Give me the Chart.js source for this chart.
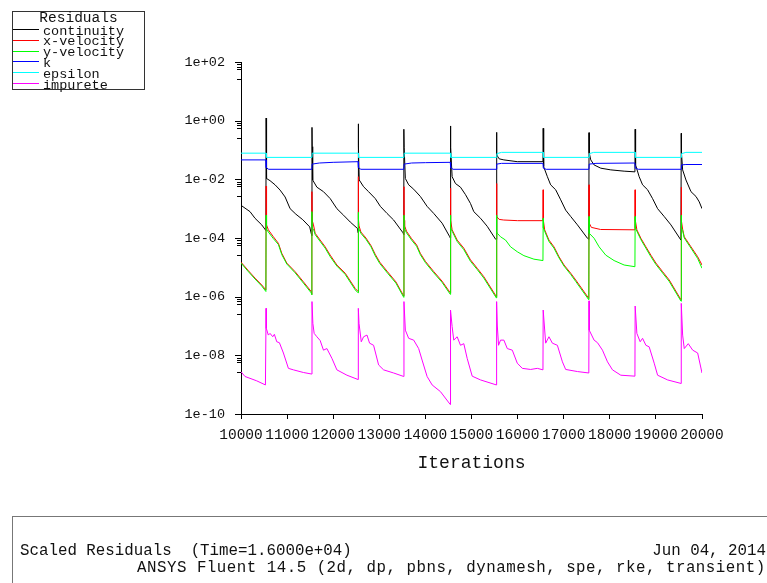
<!DOCTYPE html>
<html>
<head>
<meta charset="utf-8">
<title>Scaled Residuals</title>
<script src="https://cdn.jsdelivr.net/npm/chart.js@4.4.1/dist/chart.umd.min.js"></script>
<style>
  body { margin: 0; background: #fff; }
  #wrap { position: relative; width: 767px; height: 583px; overflow: hidden; }
  #chart { position: absolute; left: 0; top: 0; }
  .txt { position: absolute; font-family: "Liberation Mono", monospace; color: #111; white-space: pre; }
  #legend-box { position: absolute; left: 12px; top: 11px; width: 131px; height: 77px; border: 1px solid #333; }
  .swatch { position: absolute; left: 13px; width: 26px; height: 1px; }
  #footer-box { position: absolute; left: 12px; top: 516px; width: 800px; height: 100px; border: 1px solid #777; }
</style>
</head>
<body>
<div id="wrap">
  <canvas id="chart" width="767" height="583"></canvas>
  <div id="legend-box"></div>
  <div id="legend"></div>
  <div id="footer-box"></div>
  <div class="txt" style="left:20px;top:544px;font-size:15.8px;line-height:15.8px;">Scaled Residuals  (Time=1.6000e+04)</div>
  <div class="txt" style="right:1px;top:544px;font-size:15.8px;line-height:15.8px;">Jun 04, 2014</div>
  <div class="txt" style="left:137px;top:561px;font-size:15.8px;line-height:15.8px;letter-spacing:0.5px;">ANSYS Fluent 14.5 (2d, dp, pbns, dynamesh, spe, rke, transient)</div>
</div>
<script>
// ---- data ----
const seriesNames = ["continuity", "x-velocity", "y-velocity", "k", "epsilon", "impurete"];
const seriesColors = ["#000000", "#ff0000", "#00ff00", "#0000ff", "#00ffff", "#ff00ff"];

const xTickValues = [10000, 11000, 12000, 13000, 14000, 15000, 16000, 17000, 18000, 19000, 20000];
const yTickValues = [1e-10, 1e-8, 1e-6, 1e-4, 1e-2, 1e0, 1e2];
const yTickLabels = ["1e-10", "1e-08", "1e-06", "1e-04", "1e-02", "1e+00", "1e+02"];
const minorTickFactors = [0.83, 0.7, 0.57, 0.26];

const continuity = [
  [10000, 1.3e-3], [10196, 7.9e-4], [10304, 4.7e-4], [10450, 2.8e-4], [10540, 1.8e-4],
  [10545, 1.23], [10549, 0.15], [10560, 1.07e-2], [10630, 9.0e-3], [10739, 6.5e-3], [10848, 4.3e-3], [10957, 2.5e-3], [11065, 1.0e-3], [11190, 6.5e-4], [11340, 4.2e-4], [11490, 2.4e-4], [11535, 1.2e-4],
  [11540, 0.59], [11544, 0.13], [11555, 9.5e-3], [11646, 5.4e-3], [11789, 3.8e-3], [11935, 2.2e-3], [12080, 1.0e-3], [12224, 6.0e-4], [12370, 3.5e-4], [12528, 2.1e-4], [12540, 1.5e-4],
  [12545, 0.78], [12549, 0.14], [12565, 9.5e-3], [12659, 5.6e-3], [12767, 3.8e-3], [12913, 2.2e-3], [13022, 1.2e-3], [13167, 6.9e-4], [13311, 4.1e-4], [13515, 1.5e-4], [13530, 1.3e-4],
  [13535, 0.51], [13539, 0.12], [13565, 1.07e-2], [13637, 6.5e-3], [13746, 4.6e-3], [13891, 2.6e-3], [14037, 1.2e-3], [14180, 6.9e-4], [14363, 3.2e-4], [14528, 1.1e-4], [14540, 1.0e-4],
  [14545, 0.66], [14549, 0.12], [14580, 1.23e-2], [14652, 7.2e-3], [14761, 5.4e-3], [14870, 3.0e-3], [14978, 1.5e-3], [15050, 7.9e-4], [15196, 4.7e-4], [15341, 2.5e-4], [15522, 9.1e-5], [15540, 9.0e-5],
  [15545, 0.40], [15548, 0.068], [15600, 0.05], [15702, 0.046], [15993, 0.040], [16550, 0.040],
  [16555, 0.55], [16559, 0.10], [16572, 2.7e-2], [16646, 1.23e-2], [16717, 6.5e-3], [16826, 4.4e-3], [16935, 2.0e-3], [17043, 8.9e-4], [17152, 5.4e-4], [17298, 2.8e-4], [17515, 9.8e-5], [17545, 9.0e-5],
  [17550, 0.39], [17554, 0.08], [17587, 4.6e-2], [17659, 3.1e-2], [17804, 2.4e-2], [18022, 2.1e-2], [18311, 1.9e-2], [18545, 1.8e-2],
  [18550, 0.51], [18554, 0.10], [18565, 3.1e-2], [18637, 1.23e-2], [18711, 6.5e-3], [18820, 4.4e-3], [18928, 2.2e-3], [19037, 1.0e-3], [19180, 5.4e-4], [19326, 2.8e-4], [19543, 8.5e-5],
  [19550, 0.37], [19554, 0.08], [19580, 2.1e-2], [19652, 9.5e-3], [19761, 3.8e-3], [19870, 2.6e-3], [19941, 1.7e-3], [20000, 1.0e-3]
];

const xVelocity = [
  [10000, 1.5e-5], [10150, 8.0e-6], [10304, 4.3e-6], [10450, 2.5e-6], [10540, 1.7e-6],
  [10545, 5.9e-3], [10549, 4.0e-4], [10559, 2.8e-4], [10593, 1.9e-4], [10702, 1.1e-4], [10811, 6.6e-5], [10885, 3.0e-5], [10993, 1.4e-5], [11174, 7.1e-6], [11354, 3.2e-6], [11522, 1.5e-6], [11535, 1.2e-6],
  [11540, 3.8e-3], [11544, 4.0e-4], [11572, 2.8e-4], [11609, 1.45e-4], [11717, 8.5e-5], [11826, 5.0e-5], [11935, 2.6e-5], [12080, 1.2e-5], [12261, 6.3e-6], [12478, 1.9e-6], [12540, 1.5e-6],
  [12545, 1.23e-2], [12549, 4.5e-4], [12560, 2.6e-4], [12600, 1.6e-4], [12710, 1.0e-4], [12820, 5.5e-5], [12910, 2.8e-5], [13010, 1.5e-5], [13180, 7.0e-6], [13360, 3.2e-6], [13530, 1.05e-6],
  [13535, 5.6e-3], [13539, 4.0e-4], [13550, 2.6e-4], [13590, 1.7e-4], [13700, 9.5e-5], [13810, 5.8e-5], [13890, 3.0e-5], [14000, 1.6e-5], [14180, 7.2e-6], [14360, 3.4e-6], [14540, 1.35e-6],
  [14545, 5.0e-3], [14549, 4.0e-4], [14580, 1.9e-4], [14689, 8.5e-5], [14833, 4.5e-5], [14978, 1.8e-5], [15124, 9.3e-6], [15267, 4.8e-6], [15540, 1.0e-6],
  [15545, 7.2e-3], [15548, 5.4e-4], [15600, 4.3e-4], [15700, 4.1e-4], [16000, 3.9e-4], [16550, 3.9e-4],
  [16555, 4.4e-3], [16559, 4.0e-4], [16587, 1.9e-4], [16680, 8.5e-5], [16789, 5.0e-5], [16898, 2.3e-5], [17007, 1.2e-5], [17152, 6.3e-6], [17261, 3.7e-6], [17545, 8.7e-7],
  [17550, 6.5e-3], [17554, 3.2e-4], [17600, 2.3e-4], [17800, 1.95e-4], [18545, 1.9e-4],
  [18550, 4.4e-3], [18554, 4.0e-4], [18587, 1.9e-4], [18674, 9.8e-5], [18783, 5.0e-5], [18891, 2.6e-5], [19000, 1.4e-5], [19146, 7.1e-6], [19289, 3.7e-6], [19545, 7.8e-7],
  [19550, 5.4e-3], [19554, 4.0e-4], [19580, 2.0e-4], [19615, 1.1e-4], [19761, 5.0e-5], [19906, 2.3e-5], [20000, 1.2e-5]
];

const yVelocity = [
  [10000, 1.4e-5], [10150, 7.4e-6], [10304, 4.0e-6], [10450, 2.3e-6], [10540, 1.5e-6],
  [10545, 6.0e-4], [10549, 2.2e-4], [10559, 2.0e-4], [10593, 1.6e-4], [10702, 9.5e-5], [10811, 6.0e-5], [10885, 2.7e-5], [10993, 1.3e-5], [11174, 6.5e-6], [11354, 2.9e-6], [11522, 1.35e-6], [11535, 1.15e-6],
  [11540, 7.9e-4], [11544, 2.2e-4], [11572, 2.0e-4], [11609, 1.3e-4], [11717, 7.6e-5], [11826, 4.5e-5], [11935, 2.3e-5], [12080, 1.1e-5], [12261, 5.7e-6], [12478, 1.7e-6], [12540, 1.35e-6],
  [12545, 7.5e-4], [12549, 2.2e-4], [12560, 2.0e-4], [12600, 1.45e-4], [12710, 9.0e-5], [12820, 5.0e-5], [12910, 2.5e-5], [13010, 1.35e-5], [13180, 6.3e-6], [13360, 2.9e-6], [13530, 9.5e-7],
  [13535, 6.0e-4], [13539, 2.2e-4], [13550, 2.0e-4], [13590, 1.5e-4], [13700, 8.5e-5], [13810, 5.2e-5], [13890, 2.7e-5], [14000, 1.45e-5], [14180, 6.5e-6], [14360, 3.1e-6], [14540, 1.2e-6],
  [14545, 6.0e-4], [14549, 2.2e-4], [14580, 1.7e-4], [14689, 7.6e-5], [14833, 4.0e-5], [14978, 1.6e-5], [15124, 8.4e-6], [15267, 4.3e-6], [15540, 9.0e-7],
  [15545, 6.0e-4], [15549, 1.6e-4], [15560, 1.45e-4], [15630, 1.1e-4], [15739, 8.5e-5], [15848, 5.0e-5], [15993, 3.4e-5], [16137, 2.5e-5], [16354, 1.9e-5], [16550, 1.7e-5],
  [16555, 4.7e-4], [16559, 2.2e-4], [16587, 1.7e-4], [16680, 7.6e-5], [16789, 4.5e-5], [16898, 2.1e-5], [17007, 1.1e-5], [17152, 5.7e-6], [17261, 3.3e-6], [17545, 7.8e-7],
  [17550, 5.4e-4], [17554, 1.45e-4], [17659, 9.8e-5], [17768, 5.0e-5], [17913, 2.6e-5], [18093, 1.7e-5], [18311, 1.2e-5], [18545, 1.05e-5],
  [18550, 5.4e-4], [18554, 2.2e-4], [18587, 1.7e-4], [18674, 8.8e-5], [18783, 4.5e-5], [18891, 2.3e-5], [19000, 1.25e-5], [19146, 6.4e-6], [19289, 3.3e-6], [19545, 7.0e-7],
  [19550, 6.0e-4], [19554, 2.2e-4], [19580, 1.8e-4], [19615, 1.0e-4], [19761, 4.5e-5], [19906, 2.0e-5], [20000, 9.3e-6]
];

const kResid = [
  [10000, 0.046], [10543, 0.046], [10548, 0.025], [10600, 0.022], [11538, 0.022],
  [11542, 0.033], [11700, 0.036], [12000, 0.038], [12540, 0.040],
  [12547, 0.025], [12600, 0.022], [13533, 0.022],
  [13538, 0.033], [13700, 0.036], [14000, 0.037], [14540, 0.038],
  [14548, 0.025], [14600, 0.022], [15543, 0.022],
  [15548, 0.033], [15650, 0.035], [16550, 0.035],
  [16558, 0.024], [16620, 0.022], [17548, 0.022],
  [17553, 0.033], [17700, 0.035], [18545, 0.036],
  [18553, 0.024], [18620, 0.022], [19548, 0.022],
  [19553, 0.031], [19650, 0.032], [20000, 0.032]
];

const epsilon = [
  [10000, 0.078], [10545, 0.078], [10550, 0.056], [11540, 0.056],
  [11545, 0.078], [12545, 0.078], [12550, 0.056], [13535, 0.056],
  [13540, 0.078], [14545, 0.078], [14550, 0.056], [15545, 0.056],
  [15550, 0.075], [15650, 0.083], [16555, 0.083], [16560, 0.056], [17550, 0.056],
  [17555, 0.075], [17650, 0.083], [18550, 0.083], [18555, 0.056], [19550, 0.056],
  [19555, 0.075], [19650, 0.083], [20000, 0.083]
];

const impurete = [
  [10000, 2.75e-9], [10087, 1.9e-9], [10341, 1.35e-9], [10530, 9.8e-10],
  [10545, 4.0e-7], [10549, 8.3e-8], [10593, 4.9e-8], [10630, 5.6e-8], [10689, 4.3e-8], [10724, 5.2e-8], [10776, 2.9e-8], [10833, 2.7e-8], [10920, 1.2e-8], [11028, 3.6e-9], [11137, 3.2e-9], [11354, 2.6e-9], [11535, 2.3e-9],
  [11540, 6.8e-7], [11559, 1.23e-7], [11587, 5.6e-8], [11646, 4.3e-8], [11717, 3.2e-8], [11789, 1.5e-8], [11863, 1.7e-8], [11972, 7.9e-9], [12080, 3.2e-9], [12298, 2.1e-9], [12538, 1.5e-9],
  [12545, 4.0e-7], [12560, 1.23e-7], [12609, 2.9e-8], [12659, 4.3e-8], [12733, 4.9e-8], [12789, 2.6e-8], [12876, 2.2e-8], [12985, 4.7e-9], [13093, 3.2e-9], [13311, 2.5e-9], [13530, 1.9e-9],
  [13535, 6.8e-7], [13565, 7.2e-8], [13637, 3.8e-8], [13746, 3.3e-8], [13854, 1.7e-8], [13928, 6.9e-9], [14037, 1.9e-9], [14146, 9.8e-10], [14326, 5.8e-10], [14540, 2.1e-10],
  [14545, 3.5e-7], [14580, 9.5e-8], [14615, 3.3e-8], [14689, 4.3e-8], [14761, 2.2e-8], [14833, 2.5e-8], [14906, 7.9e-9], [15015, 1.95e-9], [15196, 1.45e-9], [15540, 9.8e-10],
  [15545, 6.8e-7], [15560, 1.0e-7], [15587, 2.2e-8], [15630, 3.3e-8], [15702, 3.3e-8], [15776, 1.7e-8], [15885, 1.5e-8], [15993, 5.4e-9], [16102, 3.6e-9], [16283, 3.3e-9], [16428, 3.6e-9], [16550, 3.2e-9],
  [16555, 3.5e-7], [16609, 2.6e-8], [16680, 4.3e-8], [16754, 2.6e-8], [16863, 2.2e-8], [16972, 6.0e-9], [17043, 3.3e-9], [17298, 2.8e-9], [17545, 2.5e-9],
  [17550, 7.2e-7], [17554, 7.2e-8], [17659, 3.3e-8], [17733, 2.7e-8], [17841, 1.5e-8], [17950, 6.0e-9], [18058, 3.2e-9], [18239, 2.1e-9], [18545, 1.95e-9],
  [18550, 4.8e-7], [18587, 5.6e-8], [18659, 2.9e-8], [18711, 3.8e-8], [18783, 2.2e-8], [18854, 1.95e-8], [18963, 5.4e-9], [19037, 2.1e-9], [19254, 1.45e-9], [19545, 1.1e-9],
  [19550, 5.9e-7], [19580, 4.9e-8], [19615, 1.7e-8], [19702, 2.5e-8], [19798, 1.5e-8], [19906, 1.2e-8], [20000, 2.5e-9]
];

const seriesData = [continuity, xVelocity, yVelocity, kResid, epsilon, impurete];

// ---- legend (html, top left box) ----
function buildLegend() {
  const leg = document.getElementById("legend");
  let html = '<div class="txt" style="left:12px;width:133px;text-align:center;top:11px;font-size:14.5px;line-height:14.5px;">Residuals</div>';
  seriesNames.forEach((name, i) => {
    const ly = 29 + i * 10.8;
    html += '<div class="swatch" style="top:' + Math.round(ly) + 'px;background:' + seriesColors[i] + ';"></div>';
    html += '<div class="txt" style="left:43px;top:' + (ly - 4.4).toFixed(1) + 'px;font-size:13.5px;line-height:13.5px;">' + name + '</div>';
  });
  leg.innerHTML = html;
}
buildLegend();

// ---- y-axis ticks: long at labelled decades, short clustered ones below ----
const logTicks = {
  id: "logTicks",
  afterDraw(chart) {
    const ys = chart.scales.y;
    const left = chart.chartArea.left;
    const ctx = chart.ctx;
    ctx.save();
    ctx.strokeStyle = "#000";
    ctx.lineWidth = 1;
    ctx.beginPath();
    yTickValues.forEach((v) => {
      const p = Math.round(ys.getPixelForValue(v)) + 0.5;
      ctx.moveTo(left - 6, p);
      ctx.lineTo(left, p);
      minorTickFactors.forEach((f) => {
        if (v * f < ys.min) return;
        const q = Math.round(ys.getPixelForValue(v * f)) + 0.5;
        ctx.moveTo(left - 4, q);
        ctx.lineTo(left, q);
      });
    });
    ctx.stroke();
    ctx.restore();
  },
};

const datasets = seriesNames.map((name, i) => ({
  label: name,
  data: seriesData[i].map(([x, y]) => ({ x, y })),
  borderColor: seriesColors[i],
  backgroundColor: seriesColors[i],
  borderWidth: 1,
  pointRadius: 0,
  tension: 0,
  fill: false,
  order: seriesNames.length - i,
}));

new Chart(document.getElementById("chart"), {
  type: "line",
  data: { datasets },
  options: {
    responsive: false,
    devicePixelRatio: 1,
    animation: false,
    layout: { padding: { left: 0, top: 62, right: 65, bottom: 105 } },
    plugins: { legend: { display: false }, tooltip: { enabled: false } },
    scales: {
      x: {
        type: "linear",
        min: 10000,
        max: 20000,
        afterBuildTicks: (scale) => {
          scale.ticks = xTickValues.map((v) => ({ value: v }));
        },
        afterFit: (scale) => {
          scale.height = 64;
        },
        grid: { drawOnChartArea: false, color: "#000", tickLength: 5 },
        border: { color: "#000", width: 1 },
        ticks: {
          autoSkip: false,
          maxRotation: 0,
          padding: 7,
          color: "#111",
          font: { family: "Liberation Mono", size: 14.5 },
          callback: (v) => String(v),
        },
        title: {
          display: true,
          text: "Iterations",
          color: "#111",
          padding: { top: 4, bottom: 4 },
          font: { family: "Liberation Mono", size: 18 },
        },
      },
      y: {
        type: "logarithmic",
        min: 1e-10,
        max: 1e2,
        afterBuildTicks: (scale) => {
          scale.ticks = yTickValues.map((v) => ({ value: v }));
        },
        afterFit: (scale) => {
          scale.width = 241;
        },
        grid: { drawOnChartArea: false, drawTicks: false },
        border: { color: "#000", width: 1 },
        ticks: {
          autoSkip: false,
          padding: 16,
          color: "#111",
          font: { family: "Liberation Mono", size: 13.5 },
          callback: (v, i) => yTickLabels[i],
        },
      },
    },
  },
  plugins: [logTicks],
});
</script>
</body>
</html>
